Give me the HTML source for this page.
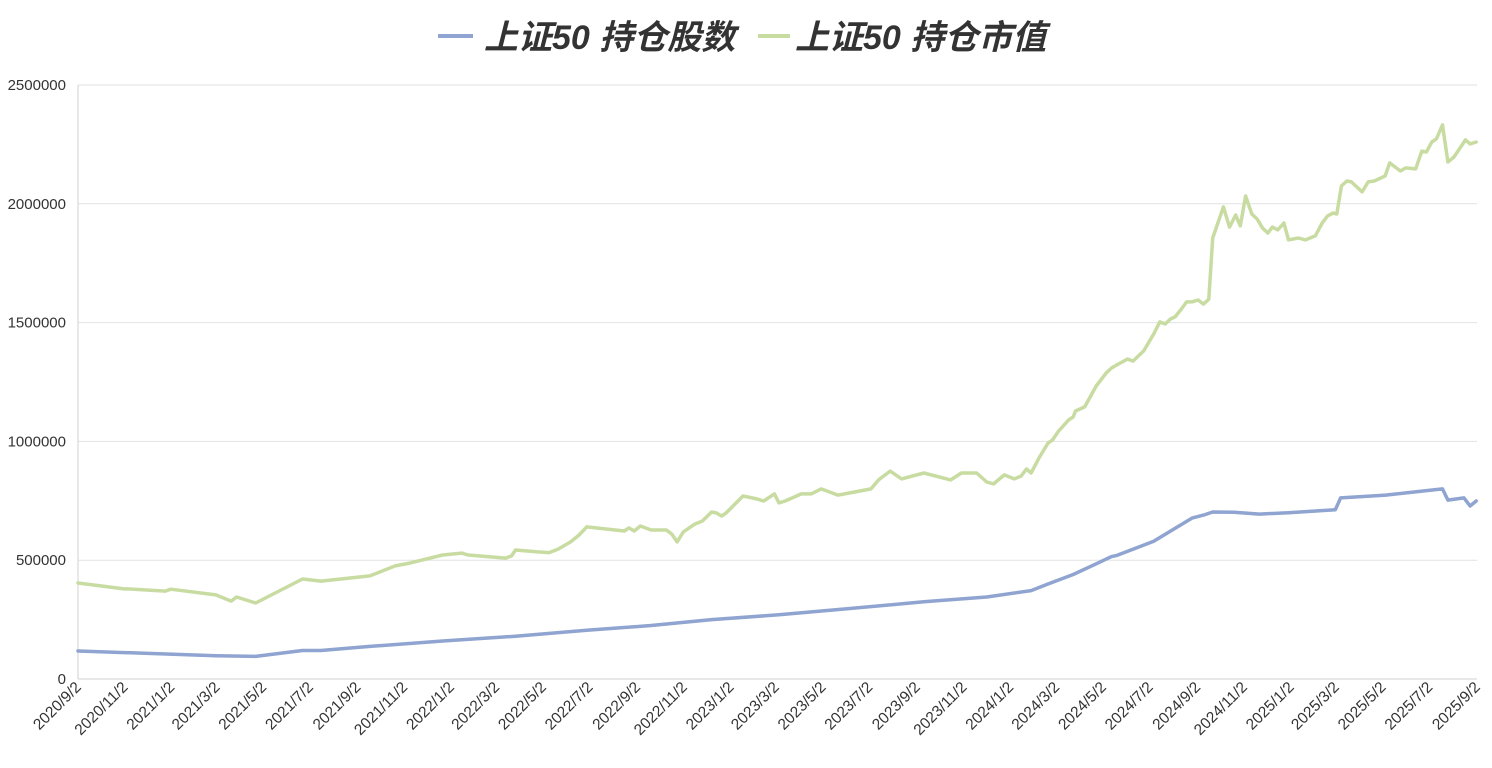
<!DOCTYPE html>
<html><head><meta charset="utf-8">
<style>
html,body{margin:0;padding:0;background:#fff;}
svg{display:block;font-family:"Liberation Sans","Noto Sans CJK SC",sans-serif;}
</style></head>
<body>
<svg id="chart" width="1492" height="768" viewBox="0 0 1492 768">
  <g>
    <g>
      <line x1="438" y1="36" x2="473" y2="36" stroke="#8fa4d0" stroke-width="4"/>
      <text x="484" y="49" font-size="34" font-weight="bold" font-style="italic" fill="#333">上证50 持仓股数</text>
    </g>
    <g>
      <line x1="758" y1="36" x2="790" y2="36" stroke="#c8dca2" stroke-width="4"/>
      <text x="795" y="49" font-size="34" font-weight="bold" font-style="italic" fill="#333">上证50 持仓市值</text>
    </g>
  </g>
  <g id="grid"></g>
  <g id="yaxis"></g>
  <g id="xaxis"></g>
  <g id="series"></g>
</svg>
<script>
const yTicks = [0, 500000, 1000000, 1500000, 2000000, 2500000];
const xTickLabels = ["2020/9/2","2020/11/2","2021/1/2","2021/3/2","2021/5/2","2021/7/2","2021/9/2","2021/11/2","2022/1/2","2022/3/2","2022/5/2","2022/7/2","2022/9/2","2022/11/2","2023/1/2","2023/3/2","2023/5/2","2023/7/2","2023/9/2","2023/11/2","2024/1/2","2024/3/2","2024/5/2","2024/7/2","2024/9/2","2024/11/2","2025/1/2","2025/3/2","2025/5/2","2025/7/2","2025/9/2"];

const valueDates = ["2020/9/2","2020/11/1","2020/11/6","2020/12/25","2021/1/1","2021/3/1","2021/3/21","2021/3/28","2021/4/22","2021/6/22","2021/7/16","2021/9/18","2021/10/21","2021/11/9","2021/12/22","2022/1/16","2022/1/24","2022/3/14","2022/3/22","2022/3/27","2022/4/25","2022/5/10","2022/5/22","2022/6/7","2022/6/18","2022/6/28","2022/8/16","2022/8/22","2022/8/29","2022/9/6","2022/9/20","2022/10/10","2022/10/17","2022/10/24","2022/11/1","2022/11/16","2022/11/26","2022/12/8","2022/12/14","2022/12/21","2022/12/27","2023/1/18","2023/2/5","2023/2/14","2023/2/28","2023/3/6","2023/3/14","2023/4/4","2023/4/17","2023/4/30","2023/5/22","2023/7/4","2023/7/14","2023/7/29","2023/8/13","2023/9/11","2023/10/16","2023/10/30","2023/11/19","2023/12/2","2023/12/11","2023/12/25","2024/1/7","2024/1/16","2024/1/23","2024/1/29","2024/2/9","2024/2/20","2024/2/26","2024/3/5","2024/3/18","2024/3/24","2024/3/27","2024/4/8","2024/4/23","2024/5/6","2024/5/13","2024/5/20","2024/6/3","2024/6/10","2024/6/24","2024/7/7","2024/7/15","2024/7/22","2024/7/29","2024/8/4","2024/8/12","2024/8/19","2024/8/26","2024/9/3","2024/9/10","2024/9/17","2024/9/22","2024/10/6","2024/10/14","2024/10/22","2024/10/28","2024/11/4","2024/11/12","2024/11/19","2024/11/26","2024/12/3","2024/12/9","2024/12/16","2024/12/24","2024/12/30","2025/1/12","2025/1/21","2025/2/3","2025/2/12","2025/2/19","2025/2/26","2025/3/3","2025/3/9","2025/3/16","2025/3/22","2025/4/5","2025/4/13","2025/4/21","2025/5/5","2025/5/11","2025/5/25","2025/6/1","2025/6/14","2025/6/22","2025/6/28","2025/7/5","2025/7/11","2025/7/19","2025/7/26","2025/8/3","2025/8/18","2025/8/24","2025/9/1"];
const marketValue = [404000,379000,379000,370000,378000,354000,328000,345000,320000,421000,412000,434000,476000,488000,522000,530000,522000,509000,518000,543000,535000,532000,547000,577000,606000,640000,623000,636000,623000,644000,627000,627000,610000,577000,619000,652000,665000,703000,699000,686000,699000,770000,758000,749000,779000,741000,749000,779000,779000,800000,774000,800000,838000,875000,842000,867000,838000,867000,867000,829000,821000,859000,842000,854000,884000,867000,934000,993000,1006000,1044000,1090000,1103000,1128000,1145000,1233000,1288000,1309000,1322000,1347000,1338000,1381000,1452000,1503000,1494000,1515000,1524000,1557000,1587000,1587000,1595000,1578000,1599000,1856000,1987000,1902000,1953000,1907000,2033000,1957000,1936000,1898000,1877000,1902000,1890000,1919000,1848000,1856000,1848000,1865000,1919000,1949000,1961000,1957000,2075000,2096000,2092000,2050000,2092000,2096000,2117000,2172000,2138000,2151000,2147000,2222000,2218000,2260000,2273000,2332000,2176000,2197000,2269000,2252000,2260000];

const shareDates = ["2020/9/2","2021/3/1","2021/4/22","2021/6/22","2021/7/16","2021/9/18","2021/12/22","2022/3/27","2022/6/28","2022/9/20","2022/12/8","2023/3/6","2023/6/1","2023/9/11","2023/12/2","2024/1/29","2024/2/20","2024/3/24","2024/4/23","2024/5/13","2024/5/20","2024/7/7","2024/8/26","2024/9/10","2024/9/22","2024/10/20","2024/11/22","2024/12/30","2025/3/1","2025/3/8","2025/5/6","2025/7/19","2025/7/26","2025/8/16","2025/8/24","2025/9/1"];
const shareCount = [118000,98000,95000,120000,120000,137000,160000,180000,205000,225000,250000,270000,295000,325000,345000,372000,400000,440000,485000,515000,520000,580000,677000,690000,703000,702000,694000,700000,712000,762000,774000,800000,753000,762000,728000,749000];

const NS = "http://www.w3.org/2000/svg";
const L = 78, R = 1477, T = 85, B = 679;
function parseD(s){const p=s.split("/");return Date.UTC(+p[0],+p[1]-1,+p[2]);}
function xs(s){return L + (parseD(s)-Date.UTC(2020,8,2))/(Date.UTC(2025,8,2)-Date.UTC(2020,8,2))*(R-L);}
function ys(v){return B - v/2500000*(B-T);}
function mk(tag, attrs, parent){const e=document.createElementNS(NS,tag);for(const k in attrs)e.setAttribute(k,attrs[k]);parent.appendChild(e);return e;}

const grid=document.getElementById("grid"), yaxis=document.getElementById("yaxis"), xaxis=document.getElementById("xaxis"), series=document.getElementById("series");
yTicks.forEach(v=>{
  const y=ys(v);
  if(v>0){const g=mk("line",{x1:L,x2:R,y1:y,y2:y,stroke:"#e2e2e2","stroke-width":1},grid);
  
  }
  const t=mk("text",{x:66,y:y+5,"text-anchor":"end","font-size":15,fill:"#333"},yaxis);
  t.textContent=v;
  
  
});
const al=mk("line",{x1:L,x2:L,y1:T,y2:B,stroke:"#d0d0d0","stroke-width":1},yaxis);


const bl=mk("line",{x1:L,x2:R,y1:B,y2:B,stroke:"#d0d0d0","stroke-width":1},xaxis);


xTickLabels.forEach(s=>{
  const x=xs(s);
  const t=mk("text",{x:x+4,y:B+9,"text-anchor":"end","font-size":15.5,fill:"#333",transform:`rotate(-45 ${x+4} ${B+9})`},xaxis);
  t.textContent=s;
  
  
});
function drawLine(dates, vals, color, name){
  const d=dates.map((s,i)=>(i?"L":"M")+xs(s).toFixed(1)+","+ys(vals[i]).toFixed(1)).join(" ");
  const p=mk("path",{d:d,fill:"none",stroke:color,"stroke-width":3.5,"stroke-linejoin":"round","stroke-linecap":"round"},series);
  
  
}
drawLine(valueDates, marketValue, "#c8dca2", "market-value-line");
drawLine(shareDates, shareCount, "#8fa4d0", "share-count-line");
</script>
</body></html>
